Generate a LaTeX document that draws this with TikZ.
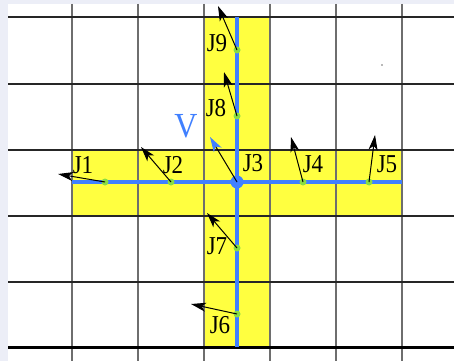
\documentclass[tikz,border=0pt]{standalone}
\usepackage{fontspec}
\setmainfont{Liberation Serif}
\usetikzlibrary{arrows.meta}
\definecolor{bgstrip}{HTML}{ECEEF7}
\definecolor{band}{HTML}{FFFF40}
\definecolor{beam}{HTML}{4080FF}
\definecolor{joint}{HTML}{88DD44}
\definecolor{gridv}{HTML}{6E6E6E}
\tikzset{
  gridh/.style={draw=black!85, line width=1.5pt},
  gridvl/.style={draw=gridv, line width=1.5pt},
  beamline/.style={draw=beam, line width=3.8pt},
  jointdot/.style={circle, fill=joint, inner sep=0pt, minimum size=7pt},
  hubdot/.style={circle, fill=beam, inner sep=0pt, minimum size=13pt},
  jlabel/.style={font=\fontsize{23}{23}\selectfont, inner sep=0pt, yscale=1.12},
  vec/.style={draw=black, line width=1pt, -{Stealth[length=15pt,width=9pt,inset=4pt]}},
  bluevec/.style={draw=black, line width=1pt, -{Stealth[length=15pt,width=9pt,inset=4pt,color=beam]}},
}
\begin{document}
\begin{tikzpicture}[x=1pt,y=-1pt]
\useasboundingbox (0,0) rectangle (454,361);
% page background
\fill[bgstrip] (0,0) rectangle (454,361);
\fill[white] (8,4) rectangle (454,361);
% yellow cross
\fill[band] (72,150) rectangle (402,216);
\fill[band] (204,17) rectangle (270,347);
% grid
\foreach \x in {72,138,204,270,336,402} \draw[gridvl] (\x,4) -- (\x,361);
\foreach \y in {17,84,150,216,282} \draw[gridh] (8,\y) -- (454,\y);
\draw[draw=black, line width=3pt] (8,347) -- (454,347);
% tiny speck
\fill[black!55] (382,65) circle (0.8pt);
% beams
\coordinate (hl) at (72,182);
\coordinate (hr) at (402,182);
\coordinate (vt) at (237,17);
\coordinate (vb) at (237,347);
\draw[beamline] (hl) -- (hr);
\draw[beamline] (vt) -- (vb);
% joints
\node[jointdot] (j1) at (105,182) {};
\node[jointdot] (j2) at (171,182) {};
\node[jointdot] (j4) at (303,182) {};
\node[jointdot] (j5) at (369,182) {};
\node[jointdot] (j9) at (237,50) {};
\node[jointdot] (j8) at (237,116) {};
\node[jointdot] (j7) at (237,248) {};
\node[jointdot] (j6) at (237,314) {};
\node[hubdot] (j3) at (237,182) {};
% arrow tips
\coordinate (t1) at (58,174);
\coordinate (t2) at (141,147);
\coordinate (t3) at (210,137);
\coordinate (t4) at (291,137);
\coordinate (t5) at (375,135);
\coordinate (t9) at (218,6);
\coordinate (t8) at (224,72);
\coordinate (t7) at (207,213);
\coordinate (t6) at (191,304);
\draw[vec] (j1.center) -- (t1);
\draw[vec] (j2.center) -- (t2);
\draw[bluevec] (j3.center) -- (t3);
\draw[vec] (j4.center) -- (t4);
\draw[vec] (j5.center) -- (t5);
\draw[vec] (j9.center) -- (t9);
\draw[vec] (j8.center) -- (t8);
\draw[vec] (j7.center) -- (t7);
\draw[vec] (j6.center) -- (t6);
% labels
\node[jlabel] (l1) at (83,165) {J1};
\node[jlabel] (l2) at (173,165) {J2};
\node[jlabel] (l3) at (253,163) {J3};
\node[jlabel] (l4) at (313,164) {J4};
\node[jlabel] (l5) at (387,164) {J5};
\node[jlabel] (l9) at (217,43) {J9};
\node[jlabel] (l8) at (216,108) {J8};
\node[jlabel] (l7) at (217,246) {J7};
\node[jlabel] (l6) at (220,325) {J6};
\node[text=beam, inner sep=0pt, font=\fontsize{32}{32}\selectfont, yscale=1.1] (vl) at (186,126) {V};
\end{tikzpicture}
\end{document}
